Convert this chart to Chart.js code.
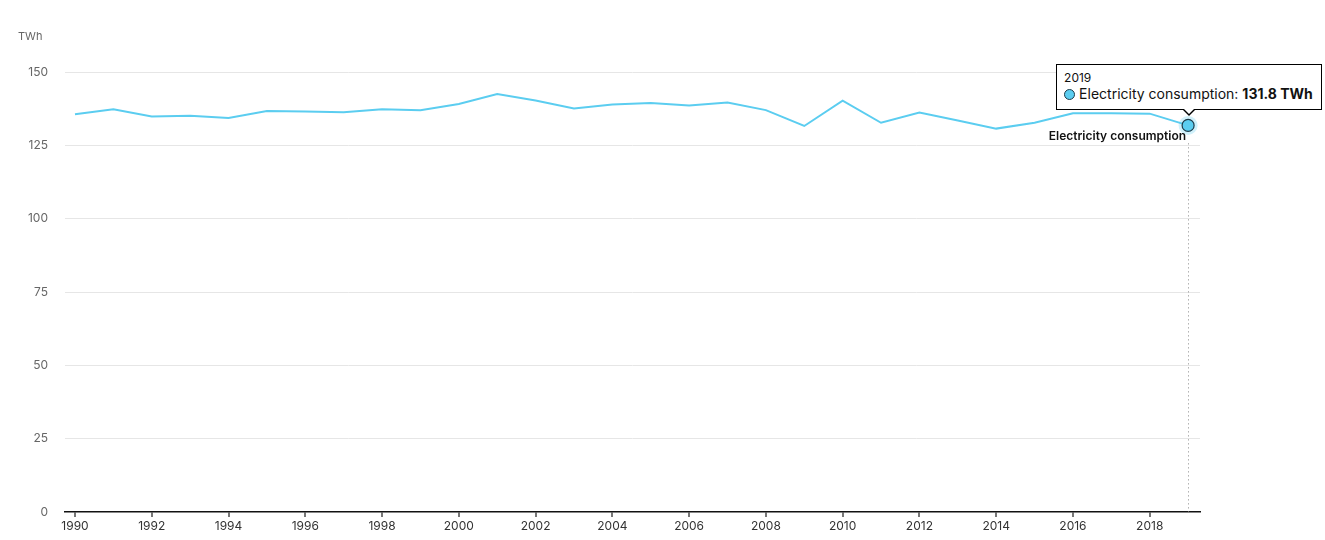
<!DOCTYPE html>
<html>
  <head>
    <title>Electricity consumption</title>
    <script src="https://cdn.jsdelivr.net/npm/chart.js"></script>
    <style>
      body { margin: 0; background: #fff; }
      #wrap { position: relative; width: 1325px; height: 540px; }
      #tip {
        position: absolute; background: #fff; border: 1px solid #000;
        font-family: Inter, "Noto Sans", sans-serif; color: #111;
        padding: 6px 8px 6px 7px; white-space: nowrap; pointer-events: none;
      }
      #tip::before, #tip::after {
        content: ""; position: absolute; left: 50%; border-style: solid;
        border-color: transparent; transform: translateX(-50%);
      }
      #tip::before { top: 100%; border-width: 7px 7px 0 7px; border-top-color: #000; }
      #tip::after { top: 100%; margin-top: -1px; border-width: 6px 6px 0 6px; border-top-color: #fff; }
      #tip .t { font-size: 12px; line-height: 14px; }
      #tip .b { font-size: 14px; line-height: 18px; }
      #tip .dot {
        display: inline-block; width: 9px; height: 9px; border-radius: 50%;
        border: 1px solid #1d3b4a; margin-right: 4px; vertical-align: -1px;
      }
    </style>
  </head>
  <body>
    <div id="wrap">
      <canvas id="chart" width="1325" height="540"></canvas>
      <div id="tip"></div>
    </div>
    <script>
      const years = [1990, 1991, 1992, 1993, 1994, 1995, 1996, 1997, 1998, 1999,
        2000, 2001, 2002, 2003, 2004, 2005, 2006, 2007, 2008, 2009,
        2010, 2011, 2012, 2013, 2014, 2015, 2016, 2017, 2018, 2019];
      const consumption = [135.6, 137.3, 134.8, 135.1, 134.3, 136.7, 136.5, 136.3, 137.3, 137.0,
        139.1, 142.5, 140.3, 137.6, 138.9, 139.4, 138.6, 139.6, 137.0, 131.6,
        140.2, 132.7, 136.2, 133.5, 130.7, 132.7, 135.9, 135.9, 135.8, 131.8];
      const yearTicks = [1990, 1992, 1994, 1996, 1998, 2000, 2002, 2004, 2006, 2008,
        2010, 2012, 2014, 2016, 2018];
      const valueTicks = [0, 25, 50, 75, 100, 125, 150];
      const seriesName = "Electricity consumption";
      const unit = "TWh";
      const lineColor = "#5bcdf0";
      const fontFamily = "Inter, 'Noto Sans', sans-serif";
      const last = years.length - 1;

      const extras = {
        id: "extras",
        beforeDatasetsDraw(chart) {
          const ctx = chart.ctx;
          const pt = chart.getDatasetMeta(0).data[last];
          // dotted guide
          ctx.save();
          ctx.strokeStyle = "#888";
          ctx.lineWidth = 1;
          ctx.setLineDash([1, 3]);
          ctx.beginPath();
          ctx.moveTo(Math.round(pt.x) + 0.5, pt.y + 18);
          ctx.lineTo(Math.round(pt.x) + 0.5, chart.chartArea.bottom);
          ctx.stroke();
          ctx.setLineDash([]);
          // halo
          ctx.fillStyle = "rgba(91,205,240,0.28)";
          ctx.beginPath();
          ctx.arc(pt.x, pt.y, 9.5, 0, Math.PI * 2);
          ctx.fill();
          ctx.restore();
        },
        afterDatasetsDraw(chart) {
          const ctx = chart.ctx;
          const pt = chart.getDatasetMeta(0).data[last];
          ctx.save();
          ctx.font = "600 12px " + fontFamily;
          ctx.fillStyle = "#111";
          ctx.textAlign = "right";
          ctx.textBaseline = "middle";
          ctx.fillText(seriesName, pt.x - 2, pt.y + 11);
          // unit label
          ctx.font = "11px " + fontFamily;
          ctx.fillStyle = "#666";
          ctx.textAlign = "left";
          ctx.fillText(unit, 18, 37);
          ctx.restore();
        }
      };

      function externalTip(context) {
        const tip = document.getElementById("tip");
        const t = context.tooltip;
        if (!t.dataPoints || !t.dataPoints.length) { tip.style.display = "none"; return; }
        const dp = t.dataPoints[0];
        tip.innerHTML =
          '<div class="t">' + years[dp.dataIndex] + '</div>' +
          '<div class="b"><span class="dot" style="background:' + lineColor + '"></span>' +
          seriesName + ': <b>' + dp.parsed.y.toFixed(1) + ' ' + unit + '</b></div>';
        tip.style.display = "block";
        const w = tip.offsetWidth, h = tip.offsetHeight;
        tip.style.left = (t.caretX - w / 2 + 1) + "px";
        tip.style.top = (t.caretY - h - 15) + "px";
      }

      const chart = new Chart(document.getElementById("chart"), {
        type: "line",
        data: {
          datasets: [{
            label: seriesName,
            data: years.map((y, i) => ({ x: y, y: consumption[i] })),
            borderColor: lineColor,
            backgroundColor: lineColor,
            borderWidth: 2,
            tension: 0,
            pointRadius: (c) => (c.dataIndex === last ? 6 : 0),
            pointHoverRadius: (c) => (c.dataIndex === last ? 6 : 0),
            pointBorderColor: "#1d3b4a",
            pointHoverBorderColor: "#1d3b4a",
            pointBackgroundColor: lineColor,
            pointHoverBackgroundColor: lineColor,
            pointBorderWidth: 1.2,
            pointHoverBorderWidth: 1.2,
          }],
        },
        options: {
          responsive: false,
          animation: false,
          events: [],
          layout: { padding: { left: 0, right: 125, top: 72, bottom: 0 } },
          plugins: {
            legend: { display: false },
            tooltip: { enabled: false, external: externalTip, mode: "nearest", intersect: false },
          },
          scales: {
            x: {
              type: "linear",
              min: 1989.74,
              max: 2019.31,
              afterBuildTicks: (s) => { s.ticks = yearTicks.map((v) => ({ value: v })); },
              afterFit: (s) => { s.height = 28; },
              grid: { drawOnChartArea: false, drawTicks: true, tickLength: 5, color: "#777", lineWidth: 2 },
              border: { display: true, color: "#111", width: 1.5 },
              ticks: {
                color: "#333", padding: 2, maxRotation: 0, autoSkip: false,
                font: { family: fontFamily, size: 12 },
                callback: (v) => String(v),
              },
            },
            y: {
              min: 0,
              max: 150,
              afterBuildTicks: (s) => { s.ticks = valueTicks.map((v) => ({ value: v })); },
              afterFit: (s) => { s.width = 65; },
              grid: {
                drawTicks: false,
                color: (c) => (c.tick.value === 0 ? "rgba(0,0,0,0)" : "#e6e6e6"),
                lineWidth: 1,
              },
              border: { display: false },
              ticks: { color: "#666", padding: 17, font: { family: fontFamily, size: 12 } },
            },
          },
        },
        plugins: [extras],
      });

      const p = chart.getDatasetMeta(0).data[last];
      chart.tooltip.setActiveElements([{ datasetIndex: 0, index: last }], { x: p.x, y: p.y });
      chart.setActiveElements([{ datasetIndex: 0, index: last }]);
      chart.update();
    </script>
  </body>
</html>
